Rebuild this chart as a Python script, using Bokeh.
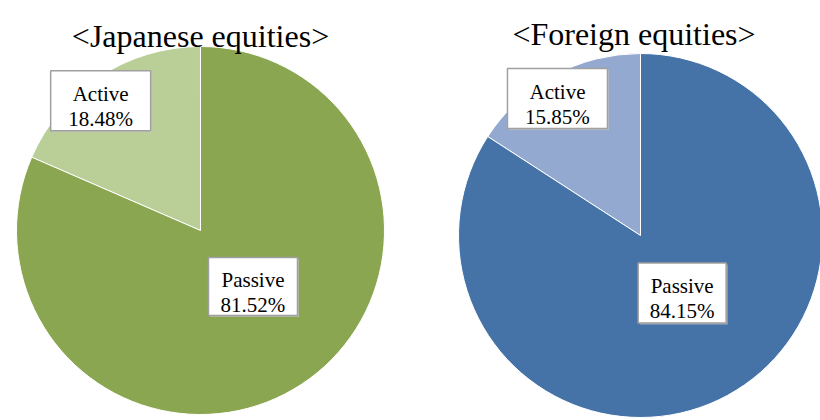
import math
from bokeh.plotting import figure
from bokeh.models import Range1d, ColumnDataSource
from bokeh.core.properties import value
from bokeh.embed import file_html
from bokeh.resources import INLINE

# ---- data ----
titles = ["<Japanese equities>", "<Foreign equities>"]
categories = ["Active", "Passive"]
japanese_values = [18.48, 81.52]
foreign_values = [15.85, 84.15]

# ---- layout / style ----
W, H = 820, 420
FONT = value("Liberation Serif")
pies = [
    dict(values=japanese_values, title=titles[0], cx=200, cy=190, r=184,
         colors=["#BACF98", "#8AA650"], title_x=200, title_y=385,
         labels=[(0.89, 4.3, 100, 60), (0.417, 9.9, 89, 58)]),
    dict(values=foreign_values, title=titles[1], cx=640, cy=185, r=182,
         colors=["#93A9CF", "#4673A7"], title_x=633.5, title_y=386.5,
         labels=[(0.88, 2.7, 100, 60), (0.39, 7.4, 88, 60)]),
]

p = figure(width=W, height=H, output_backend="svg", toolbar_location=None,
           x_range=Range1d(0, W), y_range=Range1d(0, H), min_border=0)
p.axis.visible = False
p.grid.visible = False
p.outline_line_color = None
p.background_fill_color = "white"
p.border_fill_color = "white"

for pie in pies:
    vals = pie["values"]
    total = sum(vals)
    fracs = [v / total for v in vals]
    starts, ends, mids = [], [], []
    cum = 0.0
    for f in fracs:
        starts.append(math.pi / 2 + 2 * math.pi * cum)
        ends.append(math.pi / 2 + 2 * math.pi * (cum + f))
        mids.append(math.pi / 2 + 2 * math.pi * (cum + f / 2))
        cum += f
    src = ColumnDataSource(dict(
        x=[pie["cx"]] * len(vals), y=[pie["cy"]] * len(vals),
        start=starts, end=ends, color=pie["colors"]))
    p.wedge(x="x", y="y", radius=pie["r"], start_angle="start", end_angle="end",
            fill_color="color", line_color="white", line_width=1, source=src)

    # title
    p.text(x=[pie["title_x"]], y=[pie["title_y"]], text=[pie["title"]],
           text_font=FONT, text_font_size="32px", text_color="black",
           text_align="center", text_baseline="alphabetic")

    # data labels
    bx, by, bw, bh, l1, l2 = [], [], [], [], [], []
    for cat, v, m, (rf, dang, w, h) in zip(categories, vals, mids, pie["labels"]):
        a = m + math.radians(dang)
        bx.append(pie["cx"] + rf * pie["r"] * math.cos(a))
        by.append(pie["cy"] + rf * pie["r"] * math.sin(a))
        bw.append(w)
        bh.append(h)
        l1.append(cat)
        l2.append(f"{v:.2f}%")
    p.rect(x=[x + 1.5 for x in bx], y=[y - 1.5 for y in by], width=bw, height=bh,
           fill_color="#c8c8c8", fill_alpha=0.7, line_color=None)
    p.rect(x=bx, y=by, width=bw, height=bh, fill_color="white",
           line_color="#a0a0a0", line_width=1.5)
    p.text(x=bx, y=[y + 6.5 for y in by], text=l1, text_font=FONT,
           text_font_size="21px", text_color="black", text_align="center",
           text_baseline="alphabetic")
    p.text(x=bx, y=[y - 18.5 for y in by], text=l2, text_font=FONT,
           text_font_size="21px", text_color="black", text_align="center",
           text_baseline="alphabetic")

open("out.html", "w").write(file_html(p, INLINE))
